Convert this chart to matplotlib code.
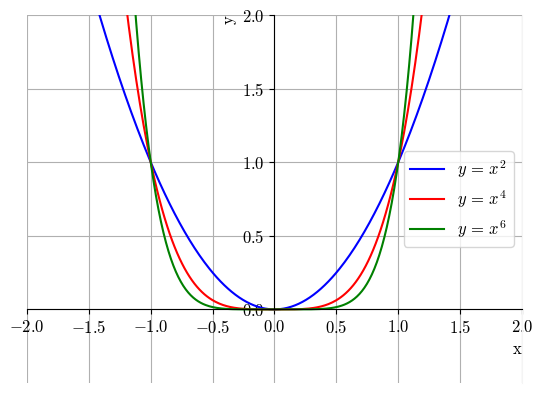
import numpy as np
import matplotlib
matplotlib.use("Agg")
import matplotlib.pyplot as plt

plt.rcParams["font.family"] = "serif"
plt.rcParams["font.serif"] = ["cmr10"]
plt.rcParams["mathtext.fontset"] = "cm"
plt.rcParams["axes.formatter.use_mathtext"] = True
plt.rcParams["font.size"] = 12

# curves y = x^n
powers = [2, 4, 6]
colors = ["blue", "red", "green"]
labels = [r"$y\,=\,x^2$", r"$y\,=\,x^4$", r"$y\,=\,x^6$"]
x_ticks = [-2.0, -1.5, -1.0, -0.5, 0.0, 0.5, 1.0, 1.5, 2.0]
y_ticks = [0.0, 0.5, 1.0, 1.5, 2.0]

x = np.linspace(-2, 2, 400)

fig = plt.figure(figsize=(5.43, 3.95), dpi=100)
ax = fig.add_axes([0.0497, 0.0304, 0.9116, 0.9316])

for p, c, lab in zip(powers, colors, labels):
    ax.plot(x, x ** p, color=c, lw=1.5, label=lab)

ax.set_xlim(-2, 2)
ax.set_ylim(-0.5, 2)
ax.set_xticks(x_ticks)
ax.set_yticks(y_ticks)

ax.spines["left"].set_position(("data", 0))
ax.spines["left"].set_bounds(0, 2)
ax.spines["bottom"].set_position(("data", 0))
ax.spines["top"].set_visible(False)
ax.spines["right"].set_color("#f4f4f4")

ax.grid(True, color="#b0b0b0", lw=0.8)
ax.set_axisbelow(True)
ax.set_xlabel("x", loc="right")
ax.set_ylabel("y", loc="top")
ax.legend(loc="center right")

fig.savefig("out.png", dpi=100)
